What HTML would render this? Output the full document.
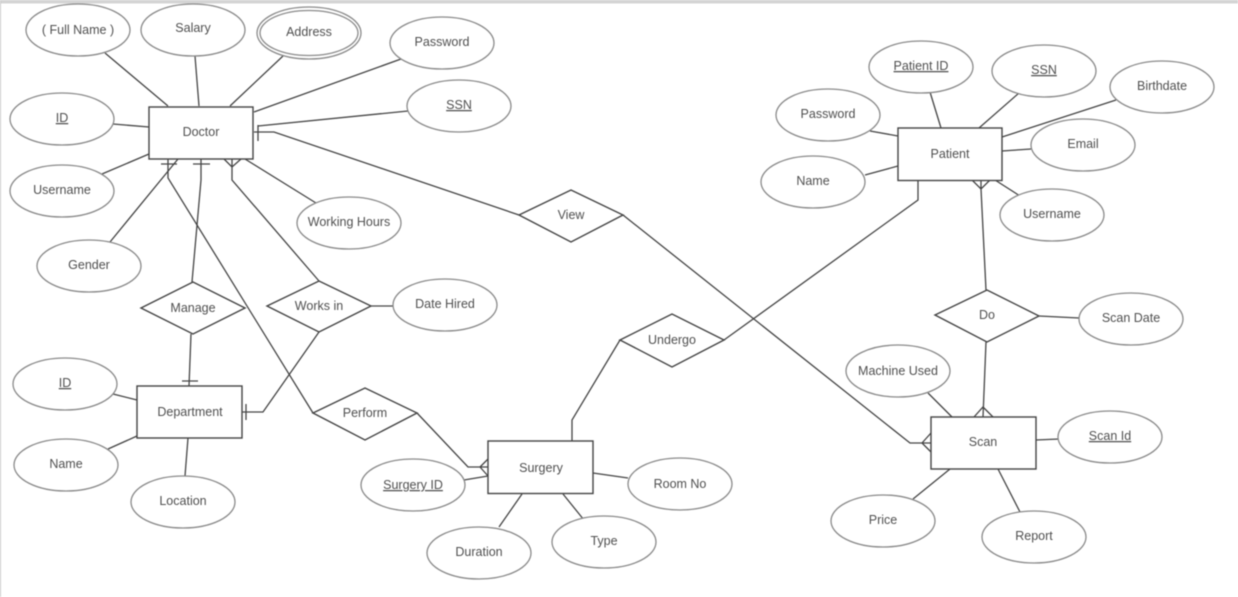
<!DOCTYPE html>
<html>
<head>
<meta charset="utf-8">
<style>
html,body{margin:0;padding:0;width:1238px;height:597px;overflow:hidden;background:#fff}
svg{display:block;filter:blur(.4px)}
text{font-family:"Liberation Sans",sans-serif;font-size:12.5px;fill:#505050;text-anchor:middle}
.e{fill:#fff;stroke:#8a8a8a;stroke-width:1.3}
.r{fill:#fff;stroke:#444;stroke-width:1.4}
.l{fill:none;stroke:#444;stroke-width:1.3}
</style>
</head>
<body>
<svg width="1238" height="597" viewBox="0 0 1238 597" xmlns="http://www.w3.org/2000/svg">
<rect x="0" y="0" width="1238" height="3.5" fill="#d4d4d4"/>
<rect x="0" y="0" width="1" height="597" fill="#c8c8c8"/>

<g class="l">
<path class="l" d="M105 53L168 106M195 56L199 106M283 56L230 106M401 59L254 112M408 111L258 126"/>
<path class="l" d="M113 124L149 127M102 174L149 154M110 242L178 159M245 159L316 203"/>
<path class="l" d="M254 132L274 132L519 215M258 125V141"/>
<path class="l" d="M168 159V178L313 413M161 164H177"/>
<path class="l" d="M201 159V180L192 282M191 334L189 386M193 164H210M182 381H198"/>
<path class="l" d="M224 159L232 167L241 159M232 159V180L319 281"/>
<path class="l" d="M371 306H394"/>
<path class="l" d="M319 332L263 412H242M246 404V420"/>
<path class="l" d="M113 394L137 400M108 449L137 436M188 438L185 476"/>
<path class="l" d="M417 413L468 467H488M480 467L488 459M480 467L488 476"/>
<path class="l" d="M464 480L488 476"/>
<path class="l" d="M572 441V420L620 340M724 340L918 200V181"/>
<path class="l" d="M522 494L499 527M563 494L584 520M593 473L628 478"/>
<path class="l" d="M623 215L910 443H931M922 443L931 433M922 443L931 452"/>
<path class="l" d="M870 131L898 136M865 175L898 166M930 92L941 128M1019 93L979 128M1116 100L1002 137M1031 149L1002 151M1020 196L995 180"/>
<path class="l" d="M972 180L981 189L990 180M981 180V189L986 290"/>
<path class="l" d="M986 342L983 417M974 417L983 407L993 417"/>
<path class="l" d="M1039 316L1079 318M928 393L952 417M1036 440L1059 439M950 469L913 499M998 469L1020 512"/>
</g>

<g class="e">
<ellipse cx="78" cy="30" rx="52" ry="26"/>
<ellipse cx="193" cy="30" rx="52" ry="26"/>
<ellipse cx="309" cy="33" rx="52" ry="26"/>
<ellipse cx="309" cy="33" rx="49" ry="22.5"/>
<ellipse cx="442" cy="43" rx="52" ry="26"/>
<ellipse cx="459" cy="106" rx="52" ry="26"/>
<ellipse cx="62" cy="119" rx="52" ry="26"/>
<ellipse cx="62" cy="191" rx="52" ry="26"/>
<ellipse cx="89" cy="266" rx="52" ry="26"/>
<ellipse cx="349" cy="223" rx="52" ry="26"/>
<ellipse cx="445" cy="305" rx="52" ry="26"/>
<ellipse cx="65" cy="384" rx="52" ry="26"/>
<ellipse cx="66" cy="465" rx="52" ry="26"/>
<ellipse cx="183" cy="502" rx="52" ry="26"/>
<ellipse cx="413" cy="485" rx="52" ry="26"/>
<ellipse cx="479" cy="553" rx="52" ry="26"/>
<ellipse cx="604" cy="542" rx="52" ry="26"/>
<ellipse cx="680" cy="484" rx="52" ry="26"/>
<ellipse cx="883" cy="521" rx="52" ry="26"/>
<ellipse cx="1034" cy="537" rx="52" ry="26"/>
<ellipse cx="1110" cy="437" rx="52" ry="26"/>
<ellipse cx="898" cy="371" rx="52" ry="26"/>
<ellipse cx="1131" cy="319" rx="52" ry="26"/>
<ellipse cx="828" cy="115" rx="52" ry="26"/>
<ellipse cx="921" cy="67" rx="52" ry="26"/>
<ellipse cx="1044" cy="71" rx="52" ry="26"/>
<ellipse cx="1162" cy="87" rx="52" ry="26"/>
<ellipse cx="1083" cy="145" rx="52" ry="26"/>
<ellipse cx="1052" cy="215" rx="52" ry="26"/>
<ellipse cx="813" cy="182" rx="52" ry="26"/>
</g>

<g class="r">
<rect x="149" y="107" width="104" height="52"/>
<rect x="137" y="386" width="105" height="52"/>
<rect x="488" y="441" width="105" height="52.5"/>
<rect x="898" y="128" width="104" height="52.5"/>
<rect x="931" y="417" width="105" height="52"/>
<polygon points="141,308 193,282 245,308 193,334"/>
<polygon points="267,306 319,281 371,306 319,332"/>
<polygon points="313,413 365,388 417,413 365,440"/>
<polygon points="519,215 571,190 623,215 571,242"/>
<polygon points="620,340 672,314 724,340 672,367"/>
<polygon points="935,315 987,290 1039,316 987,342"/>
</g>

<text x="78" y="34">( Full Name )</text>
<text x="193" y="32">Salary</text>
<text x="309" y="36">Address</text>
<text x="442" y="46">Password</text>
<text x="459" y="109" text-decoration="underline">SSN</text>
<text x="62" y="122" text-decoration="underline">ID</text>
<text x="62" y="194">Username</text>
<text x="89" y="269">Gender</text>
<text x="349" y="226">Working Hours</text>
<text x="445" y="308">Date Hired</text>
<text x="65" y="387" text-decoration="underline">ID</text>
<text x="66" y="468">Name</text>
<text x="183" y="505">Location</text>
<text x="413" y="489" text-decoration="underline">Surgery ID</text>
<text x="479" y="556">Duration</text>
<text x="604" y="545">Type</text>
<text x="680" y="488">Room No</text>
<text x="883" y="524">Price</text>
<text x="1034" y="540">Report</text>
<text x="1110" y="440" text-decoration="underline">Scan Id</text>
<text x="898" y="375">Machine Used</text>
<text x="1131" y="322">Scan Date</text>
<text x="828" y="118">Password</text>
<text x="921" y="70" text-decoration="underline">Patient ID</text>
<text x="1044" y="74" text-decoration="underline">SSN</text>
<text x="1162" y="90">Birthdate</text>
<text x="1083" y="148">Email</text>
<text x="1052" y="218">Username</text>
<text x="813" y="185">Name</text>
<text x="201" y="136">Doctor</text>
<text x="190" y="416">Department</text>
<text x="541" y="472">Surgery</text>
<text x="950" y="158">Patient</text>
<text x="983" y="446">Scan</text>
<text x="193" y="312">Manage</text>
<text x="319" y="310">Works in</text>
<text x="365" y="417">Perform</text>
<text x="571" y="219">View</text>
<text x="672" y="344">Undergo</text>
<text x="987" y="319">Do</text>
</svg>
</body>
</html>
